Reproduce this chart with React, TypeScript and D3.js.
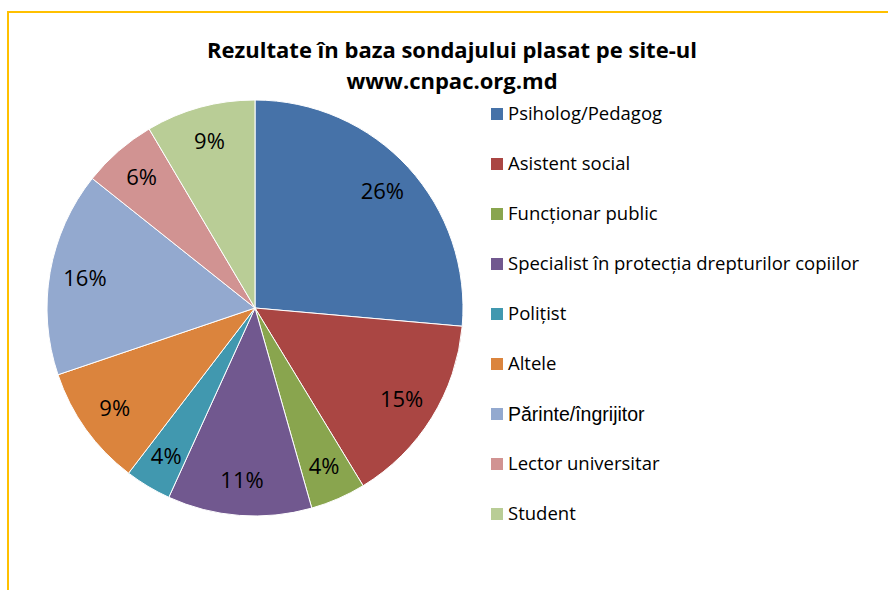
import React, { useEffect, useRef } from 'react';
import * as d3 from 'd3';

const categories = [
  'Psiholog/Pedagog',
  'Asistent social',
  'Funcționar public',
  'Specialist în protecția drepturilor copiilor',
  'Polițist',
  'Altele',
  'Părinte/îngrijitor',
  'Lector universitar',
  'Student',
];
const shares = [26.4, 14.9, 4.3, 11.2, 3.6, 9.4, 15.9, 5.8, 8.5];
const colors = ['#4672A8', '#AA4643', '#89A54E', '#71588F', '#4198AF', '#DB843D', '#93A9CF', '#D19392', '#B9CD96'];
const titleLines = ['Rezultate în baza sondajului plasat pe site-ul', 'www.cnpac.org.md'];

export default function App() {
  const ref = useRef<SVGSVGElement>(null);

  useEffect(() => {
    const svg = d3.select(ref.current);
    svg.selectAll('*').remove();
    const width = 888;
    const height = 590;
    const cx = 255;
    const cy = 308;
    const radius = 208;
    const font = "'Open Sans', 'Noto Sans', sans-serif";

    // frame (top + left edges visible)
    svg.append('path')
      .attr('d', `M8,${height} L8,12 L${width},12`)
      .attr('fill', 'none')
      .attr('stroke', '#FFC000')
      .attr('stroke-width', 2);

    svg.append('g')
      .selectAll('text')
      .data(titleLines)
      .enter()
      .append('text')
      .attr('x', 452)
      .attr('y', (d, i) => 58 + i * 31)
      .attr('text-anchor', 'middle')
      .style('font-family', font)
      .style('font-weight', 'bold')
      .style('font-size', '22px')
      .attr('fill', '#000')
      .text(d => d);

    const data = categories.map((c, i) => ({ name: c, value: shares[i] }));
    const total = d3.sum(shares);
    const pie = d3.pie<any>().sort(null).value(d => d.value);
    const arc = d3.arc<any>().innerRadius(0).outerRadius(radius);
    const labelArc = d3.arc<any>().innerRadius(radius * 0.83).outerRadius(radius * 0.83);
    const color = d3.scaleOrdinal<string>().domain(categories).range(colors);

    const g = svg.append('g').attr('transform', `translate(${cx},${cy})`);
    const arcs = pie(data);

    g.selectAll('path')
      .data(arcs)
      .enter()
      .append('path')
      .attr('d', arc)
      .attr('fill', d => color(d.data.name))
      .attr('stroke', '#fff')
      .attr('stroke-width', 1);

    g.selectAll('text')
      .data(arcs)
      .enter()
      .append('text')
      .attr('transform', d => `translate(${labelArc.centroid(d)})`)
      .attr('text-anchor', 'middle')
      .attr('dy', '0.35em')
      .style('font-family', font)
      .style('font-size', '22px')
      .attr('fill', '#000')
      .text(d => `${Math.round((d.data.value / total) * 100)}%`);

    // legend
    const y = d3.scalePoint<string>().domain(categories).range([114, 514]);
    const legend = svg.append('g')
      .selectAll('g')
      .data(categories)
      .enter()
      .append('g')
      .attr('transform', d => `translate(491,${y(d)})`);

    legend.append('rect')
      .attr('x', 0)
      .attr('y', -6)
      .attr('width', 12)
      .attr('height', 12)
      .attr('fill', d => color(d));

    legend.append('text')
      .attr('x', 17)
      .attr('dy', '0.35em')
      .style('font-family', d => d === 'Părinte/îngrijitor' ? "'Liberation Sans', Arial, sans-serif" : font)
      .style('font-size', d => d === 'Părinte/îngrijitor' ? '19.5px' : '18.5px')
      .attr('fill', '#000')
      .text(d => d);
  }, []);

  return (
    <svg ref={ref} width={888} height={590} style={{ position: 'absolute', left: 0, top: 0, background: '#fff' }} />
  );
}
